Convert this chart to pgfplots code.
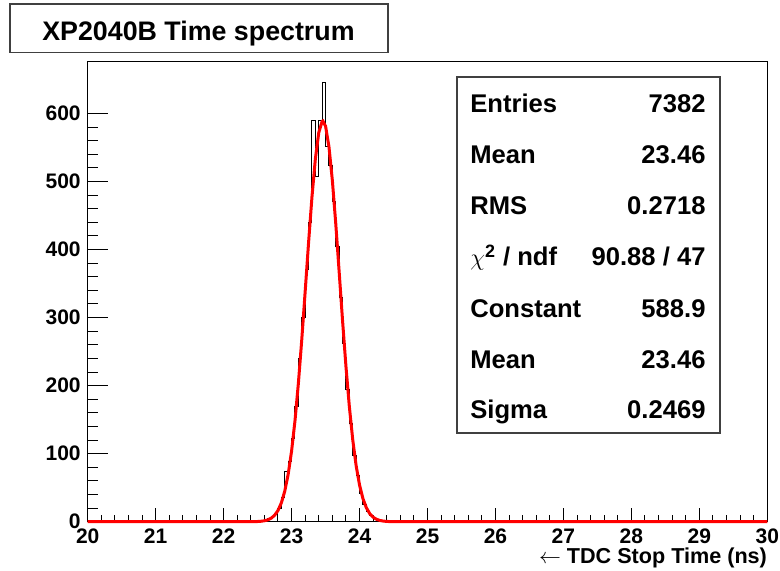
\documentclass[border=0pt]{standalone}
\usepackage{fontspec}
\setmainfont{Liberation Sans}
\usepackage{pgfplots}
\pgfplotsset{compat=1.18}

% histogram: left bin edge, counts (bin width 0.05 ns)
\pgfplotstableread{
x y
20.00 0
22.55 1
22.60 2
22.65 4
22.70 7
22.75 11
22.80 19
22.85 36
22.90 74
22.95 88
23.00 122
23.05 170
23.10 240
23.15 300
23.20 370
23.25 440
23.30 589
23.35 508
23.40 589
23.45 645
23.50 551
23.55 523
23.60 470
23.65 405
23.70 330
23.75 262
23.80 195
23.85 145
23.90 98
23.95 68
24.00 42
24.05 26
24.10 15
24.15 9
24.20 5
24.25 3
24.30 1
24.35 1
24.40 0
25.30 2
25.35 0
30.00 0
}\histdata

% gaussian fit, constant 588.9, mean 23.46, sigma 0.2469
\pgfplotstableread{
x y
20.00 0
22.40 0.06
22.45 0.14
22.50 0.31
22.55 0.66
22.60 1.37
22.65 2.71
22.70 5.16
22.75 9.43
22.80 16.5
22.85 27.8
22.90 45.0
22.95 69.8
23.00 103.8
23.05 148.3
23.10 203.4
23.15 267.7
23.20 338.3
23.25 410.2
23.30 477.4
23.35 533.3
23.40 571.8
23.45 588.4
23.46 588.9
23.50 581.2
23.55 551.0
23.60 501.5
23.65 438.0
23.70 367.2
23.75 295.5
23.80 228.2
23.85 169.1
23.90 120.4
23.95 82.2
24.00 53.9
24.05 33.9
24.10 20.5
24.15 11.9
24.20 6.60
24.25 3.52
24.30 1.81
24.35 0.89
24.40 0.42
24.45 0.19
24.50 0.08
30.00 0
}\fitdata

\pgfplotsset{
  rootframe/.style={
    at={(0,0)}, anchor=south west,
    scale only axis, width=339.8pt, height=230pt,
    xmin=20, xmax=30, ymin=0, ymax=676,
    tick pos=left, tick align=inside,
    axis line style={black, line width=0.5pt},
    every tick/.append style={black, line width=0.5pt},
    /pgf/number format/assume math mode=true,
    ticklabel style={font=\fontsize{10.5}{12}\selectfont\bfseries},
  },
}

\begin{document}
\begin{tikzpicture}
% y ticks (longer, as ROOT scales tick length with the other axis)
\begin{axis}[rootframe,
  xtick=\empty, ytick={0,100,...,600}, minor y tick num=4,
  major tick length=10pt, minor tick length=5pt,
]
\end{axis}
\begin{axis}[rootframe,
  ytick=\empty, xtick={20,21,...,30}, minor x tick num=4,
  major tick length=6.9pt, minor tick length=3.45pt,
  xlabel={$\leftarrow$ TDC Stop Time (ns)},
  xlabel style={at={(axis description cs:1,0)}, anchor=base east, yshift=-20.8pt,
    inner sep=0pt, font=\fontsize{10.8}{12}\selectfont\bfseries},
  clip=false,
]
\addplot[const plot mark left, black, line width=0.5pt] table {\histdata};
\addplot[red, line width=1.5pt] table {\fitdata};

\draw[black!75, line width=0.75pt, fill=white]
  (rel axis cs:0.5434,0.1928) rectangle (rel axis cs:0.9304,0.9667);
\begin{scope}[font=\fontsize{12.8}{14}\selectfont\bfseries, inner sep=0pt]
\node[anchor=base west] at (rel axis cs:0.5624,0.8889) {Entries};
\node[anchor=base east] at (rel axis cs:0.9097,0.8889) {7382};
\node[anchor=base west] at (rel axis cs:0.5624,0.7787) {Mean};
\node[anchor=base east] at (rel axis cs:0.9097,0.7787) {23.46};
\node[anchor=base west] at (rel axis cs:0.5624,0.6689) {RMS};
\node[anchor=base east] at (rel axis cs:0.9097,0.6689) {0.2718};
\node[anchor=base west] at (rel axis cs:0.5624,0.5559) {$\chi$\textsuperscript{2} / ndf};
\node[anchor=base east] at (rel axis cs:0.9097,0.5559) {90.88 / 47};
\node[anchor=base west] at (rel axis cs:0.5624,0.4450) {Constant};
\node[anchor=base east] at (rel axis cs:0.9097,0.4450) {588.9};
\node[anchor=base west] at (rel axis cs:0.5624,0.3341) {Mean};
\node[anchor=base east] at (rel axis cs:0.9097,0.3341) {23.46};
\node[anchor=base west] at (rel axis cs:0.5624,0.2254) {Sigma};
\node[anchor=base east] at (rel axis cs:0.9097,0.2254) {0.2469};
\end{scope}
\end{axis}

\draw[black!75, line width=0.75pt, fill=white] (-38.85pt,234.5pt) rectangle (150.15pt,258.85pt);
\node[anchor=base, inner sep=0pt, font=\fontsize{13.4}{15}\selectfont\bfseries]
  at (55.4pt,240.85pt) {XP2040B Time spectrum};

\pgfresetboundingbox
\path[use as bounding box] (-43.85pt,-24.15pt) rectangle (346.15pt,260.85pt);
\end{tikzpicture}
\end{document}
